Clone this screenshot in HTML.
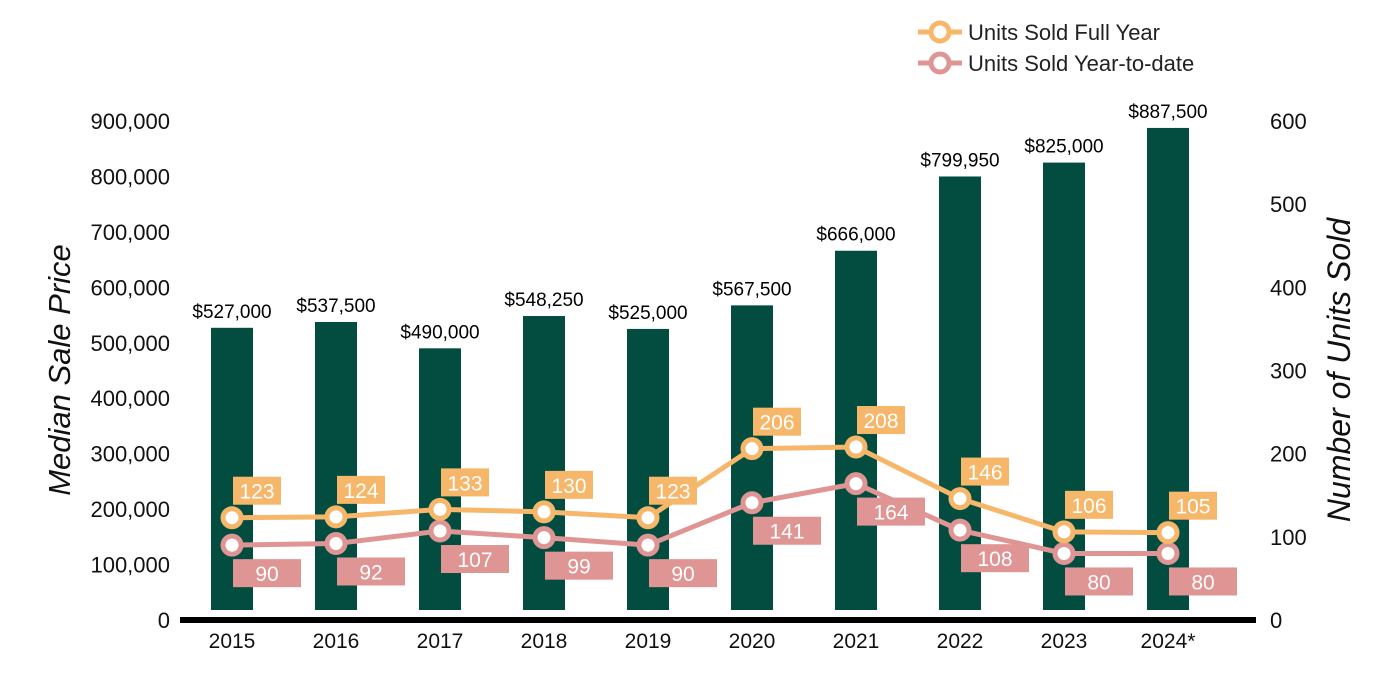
<!DOCTYPE html>
<html><head><meta charset="utf-8"><style>
body{margin:0;background:#fff;}
svg{display:block;font-family:"Liberation Sans",Arial,sans-serif;}
</style></head><body>
<svg id="chart" width="1400" height="700" viewBox="0 0 1400 700">
<g id="legend">
  <g>
    <line x1="918" y1="32" x2="962" y2="32" stroke="#F7B76A" stroke-width="5"/>
    <circle cx="940" cy="32" r="9" fill="#fff" stroke="#F7B76A" stroke-width="5"/>
    <text x="968" y="40" font-size="22" fill="#222">Units Sold Full Year</text>
  </g>
  <g>
    <line x1="918" y1="63" x2="962" y2="63" stroke="#E09595" stroke-width="5"/>
    <circle cx="940" cy="63" r="9" fill="#fff" stroke="#E09595" stroke-width="5"/>
    <text x="968" y="71" font-size="22" fill="#222">Units Sold Year-to-date</text>
  </g>
</g>
<text transform="translate(70,370) rotate(-90)" text-anchor="middle" font-size="31" font-style="italic" fill="#111">Median Sale Price</text>
<text transform="translate(1350,370) rotate(-90)" text-anchor="middle" font-size="32" font-style="italic" fill="#111">Number of Units Sold</text>
<g id="leftTicks"></g><g id="rightTicks"></g>
<g id="bars"></g>
<rect x="180" y="617" width="1076" height="6" fill="#000"/>
<g id="xlabels"></g>
<g id="lines"></g>
</svg>
<script>
const years=["2015","2016","2017","2018","2019","2020","2021","2022","2023","2024*"];
const prices=[527000,537500,490000,548250,525000,567500,666000,799950,825000,887500];
const priceLabels=["$527,000","$537,500","$490,000","$548,250","$525,000","$567,500","$666,000","$799,950","$825,000","$887,500"];
const fullYear=[123,124,133,130,123,206,208,146,106,105];
const ytd=[90,92,107,99,90,141,164,108,80,80];
const leftTickVals=[0,100000,200000,300000,400000,500000,600000,700000,800000,900000];
const rightTickVals=[0,100,200,300,400,500,600];

const NS="http://www.w3.org/2000/svg";
const y0=620, yTop=121;
const yL=v=>y0-(v/900000)*(y0-yTop);
const yR=v=>y0-(v/600)*(y0-yTop);
const xC=i=>232+i*104;
function mk(tag,attrs,parent,txt){const e=document.createElementNS(NS,tag);for(const k in attrs)e.setAttribute(k,attrs[k]);if(txt!==undefined)e.textContent=txt;parent.appendChild(e);return e;}
const fmt=v=>v.toLocaleString("en-US");

const lt=document.getElementById("leftTicks");
leftTickVals.forEach(v=>{const t=mk("text",{x:170,y:yL(v)+8,"text-anchor":"end","font-size":22,fill:"#111"},lt,fmt(v));

});
const rt=document.getElementById("rightTicks");
rightTickVals.forEach(v=>{const t=mk("text",{x:1270,y:yR(v)+8,"font-size":22,fill:"#111"},rt,String(v));

});

const bg=document.getElementById("bars");
prices.forEach((p,i)=>{
 const b=mk("rect",{x:xC(i)-21,y:yL(p),width:42,height:610-yL(p),fill:"#034D40"},bg);
 
 
 const t=mk("text",{x:xC(i),y:yL(p)-10,"text-anchor":"middle","font-size":19,fill:"#000"},bg,priceLabels[i]);
 
 
});
const xl=document.getElementById("xlabels");
years.forEach((y,i)=>{const t=mk("text",{x:xC(i),y:648,"text-anchor":"middle","font-size":21,fill:"#111"},xl,y);

});

const lg=document.getElementById("lines");
function series(vals,color,name,above){
 const pts=vals.map((v,i)=>xC(i)+","+yR(v)).join(" ");
 const pl=mk("polyline",{points:pts,fill:"none",stroke:color,"stroke-width":5},lg);
 
 
 vals.forEach((v,i)=>{
  const c=mk("circle",{cx:xC(i),cy:yR(v),r:9,fill:"#fff",stroke:color,"stroke-width":5},lg);
  
  
 });
 vals.forEach((v,i)=>{
  const w=above?48:68, bx=xC(i)+1, by=above?yR(v)-41:yR(v)+14;
  const r=mk("rect",{x:bx,y:by,width:w,height:28,fill:color},lg);
  
  
  const t=mk("text",{x:bx+w/2,y:by+22,"text-anchor":"middle","font-size":21,fill:"#fff"},lg,String(v));
  
  
 });
}
series(ytd,"#E09595","ytd-units",false);
series(fullYear,"#F7B76A","full-year-units",true);
</script>
</body></html>
